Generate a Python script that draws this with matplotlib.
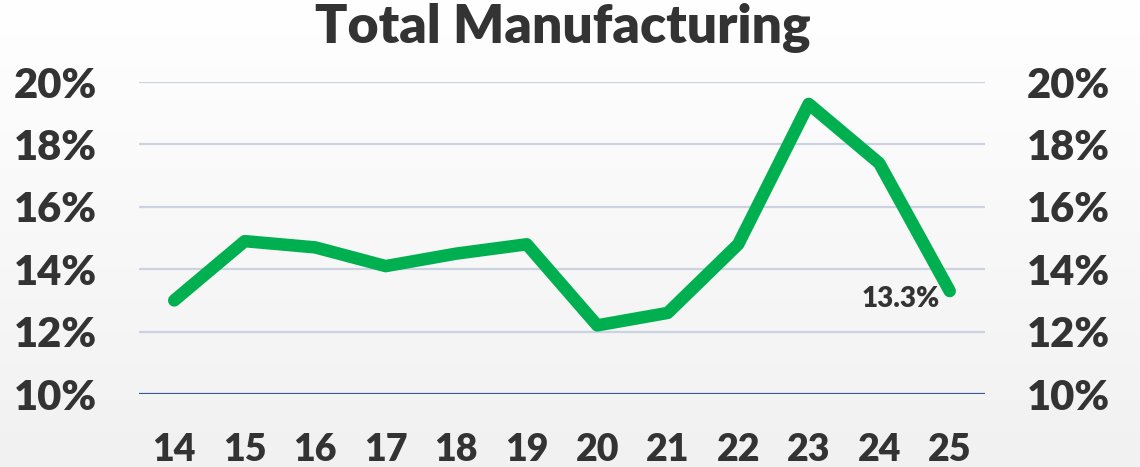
import numpy as np
import matplotlib.pyplot as plt

# year labels and manufacturing share (%)
years = ["14", "15", "16", "17", "18", "19", "20", "21", "22", "23", "24", "25"]
share = [13.0, 14.9, 14.7, 14.1, 14.5, 14.8, 12.2, 12.6, 14.8, 19.3, 17.4, 13.3]
y_ticks = [10, 12, 14, 16, 18, 20]

text_color = "#333333"
green = "#00B050"

plt.rcParams["font.family"] = ["Lato", "DejaVu Sans"]
plt.rcParams["font.weight"] = "heavy"

fig = plt.figure(figsize=(11.4, 4.67), dpi=100)

# soft vertical gradient behind everything
bg = fig.add_axes([0, 0, 1, 1], zorder=-10)
grad = np.linspace(0, 1, 256).reshape(-1, 1)
bg.imshow(grad, aspect="auto", cmap=plt.matplotlib.colors.LinearSegmentedColormap.from_list(
    "bg", ["#FFFFFF", "#F1F1F1"]), extent=[0, 1, 0, 1], origin="upper")
bg.axis("off")

ax = fig.add_axes([0.1219, 0.1563, 0.7421, 0.668])
ax.patch.set_alpha(0)

x = np.arange(len(years))
ax.plot(x, share, color=green, linewidth=9, solid_joinstyle="round",
        solid_capstyle="round", clip_on=False, zorder=3)

ax.set_xlim(-0.5, len(years) - 0.5)
ax.set_ylim(10, 20)
ax.set_yticks(y_ticks)
ax.set_yticklabels([f"{v}%" for v in y_ticks])
ax.set_xticks(x)
ax.set_xticklabels(years)

for v in y_ticks[1:]:
    ax.axhline(v, color="#CDD2E3", linewidth=1.6, zorder=1)
ax.axhline(10, color="#3B5598", linewidth=1.6, zorder=2)

for s in ax.spines.values():
    s.set_visible(False)

ax.tick_params(axis="y", length=0, pad=30, labelsize=30, labelcolor=text_color,
               labelleft=True, labelright=True)
ax.tick_params(axis="x", length=0, pad=28, labelsize=27, labelcolor=text_color)

ax.annotate(f"{share[-1]:.1f}%", (x[-1], share[-1]), xytext=(-35, -6),
            textcoords="offset points", ha="center", va="center",
            fontsize=20, color=text_color, fontweight="heavy")

fig.text(0.494, 0.94, "Total Manufacturing", ha="center", va="center",
         fontsize=38.5, color=text_color, fontweight="heavy")

fig.savefig("out.png", dpi=100)
